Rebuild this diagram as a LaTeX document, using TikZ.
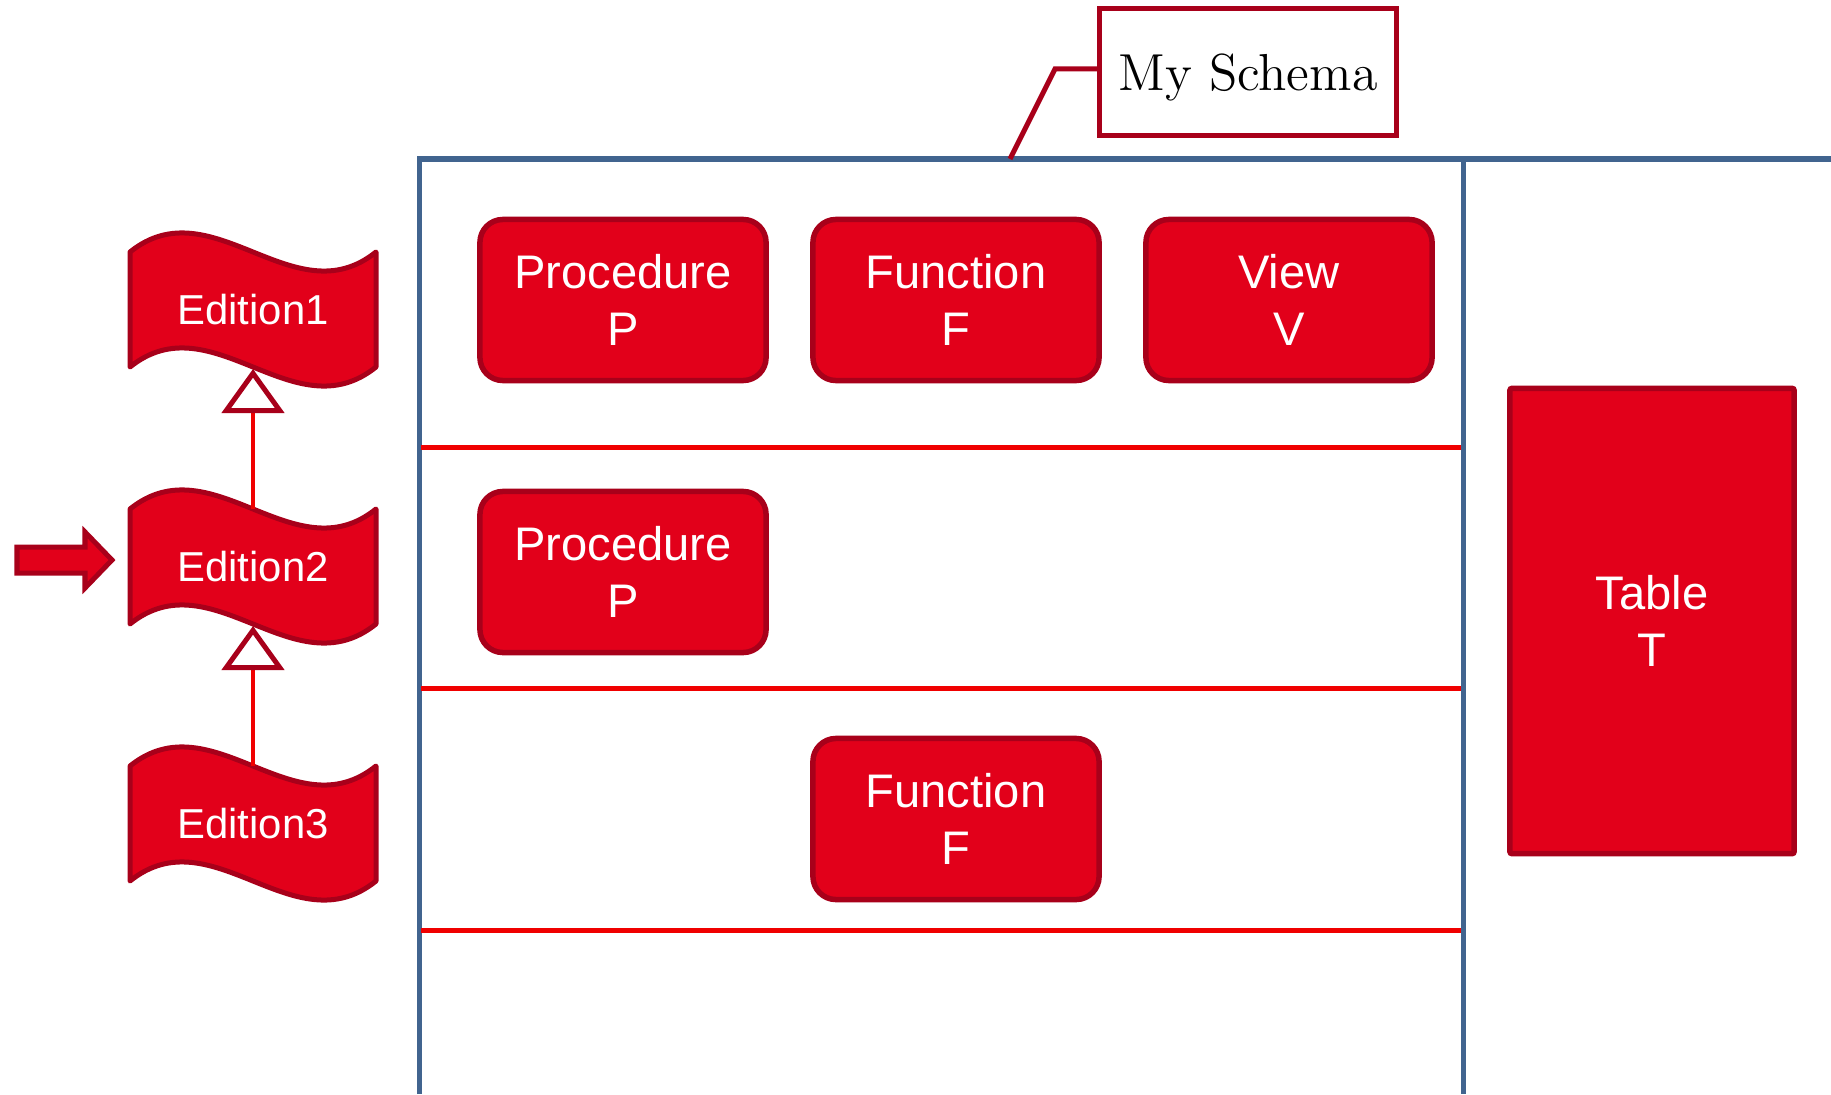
\documentclass[tikz,border=0pt]{standalone}
\usepackage{fontspec}
\newfontfamily\arialf{Liberation Sans}
\usetikzlibrary{arrows.meta}
\definecolor{kfill}{RGB}{226,0,26}
\definecolor{kborder}{RGB}{168,0,26}
\definecolor{kline}{RGB}{240,0,0}
\definecolor{kblue}{RGB}{65,100,143}
\begin{document}
\begin{tikzpicture}[x=0.01cm,y=-0.01cm,
  kbox/.style={draw=kborder, fill=kfill, line width=0.055cm, rounded corners=0.23cm, text=white, align=center, font=\arialf\fontsize{13.4}{16.2}\selectfont, minimum width=2.86cm, minimum height=1.61cm, inner sep=0pt},
  tbox/.style={kbox, rounded corners=0.02cm, minimum width=2.84cm, minimum height=4.65cm},
  wavefill/.style={draw=kborder, fill=kfill, line width=0.05cm, line join=round},
  edtext/.style={text=white, font=\arialf\fontsize{11.9}{14}\selectfont, inner sep=0pt},
  blueline/.style={draw=kblue, line width=0.05cm},
  rowline/.style={draw=kline, line width=0.05cm},
  inh/.style={draw=kline, line width=0.04cm, -{Triangle[length=0.44cm, width=0.62cm, line width=0.05cm, color=kborder, fill=white]}},
  callout/.style={draw=kborder, line width=0.05cm},
  schemabox/.style={draw=kborder, line width=0.05cm, fill=white, minimum width=2.96cm, minimum height=1.26cm, inner sep=0pt, text depth=0pt, font=\fontsize{14.8}{17}\selectfont}
]
\useasboundingbox (0,0) rectangle (1831,1094);
% schema frame
\coordinate (ftl) at (419,159);
\coordinate (ftr) at (1831,159);
\coordinate (fbl) at (419,1094);
\coordinate (fml) at (1463,159);
\coordinate (fmb) at (1463,1094);
\draw[blueline] (fbl) -- (ftl) -- (ftr);
\draw[blueline] (fml) -- (fmb);
% row separators
\foreach \i/\yy in {1/447,2/688,3/930}{
  \coordinate (rl\i) at (421,\yy);
  \coordinate (rr\i) at (1461,\yy);
  \draw[rowline] (rl\i) -- (rr\i);
}
% objects
\node[kbox] (p1) at (623,300) {Procedure\\P};
\node[kbox] (f1) at (956,300) {Function\\F};
\node[kbox] (v1) at (1289,300) {View\\V};
\node[kbox] (p2) at (623,572) {Procedure\\P};
\node[kbox] (f3) at (956,819) {Function\\F};
\node[tbox] (tt) at (1652,621) {Table\\T};
% callout
\coordinate (cfoot) at (1010,159);
\coordinate (cbend) at (1055,69);
\node[schemabox] (schema) at (1248,72) {My Schema};
\draw[callout] (cfoot) -- (cbend) -- (cbend -| schema.west);
% editions
\foreach \n/\yy in {1/252,2/509,3/766}{
  \draw[wavefill] (130,\yy) .. controls (212,\yy-66) and (294,\yy+66) .. (376,\yy)
    -- (376,\yy+115) .. controls (294,\yy+181) and (212,\yy+49) .. (130,\yy+115) -- cycle;
  \node[edtext] (e\n) at (253,\yy+58) {Edition\n};
  \coordinate (e\n t) at (253,\yy);
  \coordinate (e\n b) at (253,\yy+117);
}
\draw[inh] (e2t) -- (e1b);
\draw[inh] (e3t) -- (e2b);
% current edition marker
\draw[wavefill, line join=miter] (17,547) -- (85,547) -- (85,532) -- (112,560) -- (85,588) -- (85,573) -- (17,573) -- cycle;
\end{tikzpicture}
\end{document}
